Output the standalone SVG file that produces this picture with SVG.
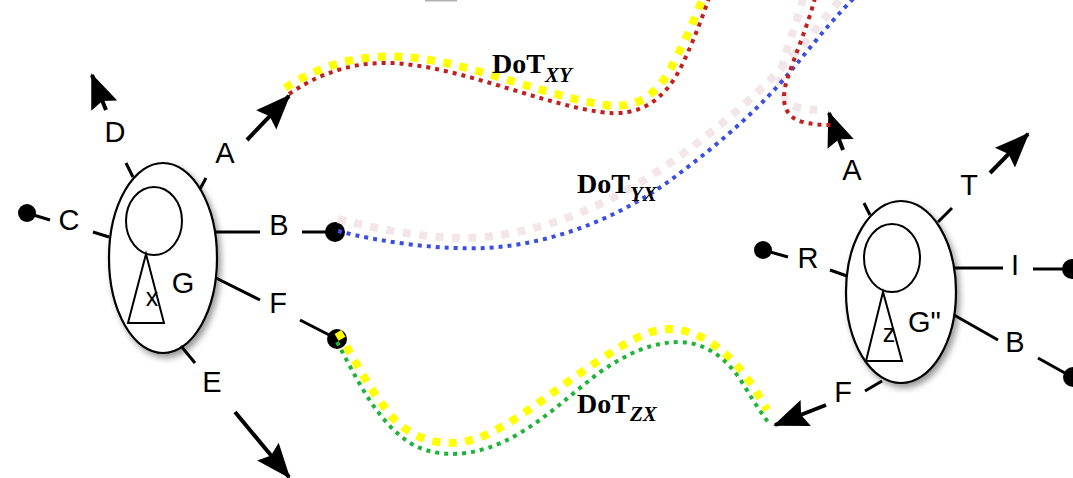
<svg xmlns="http://www.w3.org/2000/svg" width="1073" height="478" viewBox="0 0 1073 478">
<style>
.ell{fill:#fff;stroke:#000;stroke-width:2.2}
.inner{fill:#fff;stroke:#000;stroke-width:2}
.ln{stroke:#000;stroke-width:3;fill:none}
.arr{stroke:#000;stroke-width:4;fill:none;marker-end:url(#ah)}
.ball{fill:#000}
.lbl{font-family:"Liberation Sans",Arial,sans-serif;font-size:29px;text-anchor:middle;fill:#000}
.sm{font-family:"Liberation Sans",Arial,sans-serif;font-size:25px;text-anchor:middle;fill:#000}
.dot{font-family:"Liberation Serif","Times New Roman",serif;font-weight:bold;font-size:28px;fill:#000}
.sub{font-style:italic;font-size:21px}
.wide{fill:none;stroke-width:8;stroke-dasharray:8 8.5}
.narrow{fill:none;stroke-width:4;stroke-dasharray:4 5}
.yel{stroke:#ffff00}
.pink{stroke:#f3e6e8}
.red{stroke:#c0201e}
.blue{stroke:#3a4fe0}
.green{stroke:#1fb33a}
</style>
<defs>
<marker id="ah" markerUnits="userSpaceOnUse" markerWidth="40" markerHeight="32" viewBox="-36 -16 40 32" refX="0" refY="0" orient="auto" overflow="visible">
<path d="M2,0 L-33,-14 L-28,0 L-33,14 Z" fill="#000"/>
</marker>
<filter id="sh" x="-20%" y="-20%" width="150%" height="150%">
<feDropShadow dx="3" dy="4" stdDeviation="3" flood-color="#000" flood-opacity="0.4"/>
</filter>
</defs>
<rect width="1073" height="478" fill="#fff"/>
<line x1="425" y1="0.5" x2="457" y2="0.5" stroke="#b0b0b0" stroke-width="2"/>

<g id="node-G">
<ellipse class="ell" cx="163" cy="258" rx="54" ry="95" filter="url(#sh)"/>
<ellipse class="inner" cx="154" cy="221" rx="28" ry="34"/>
<path class="inner" d="M146,254 L128,323 L164,323 Z" fill="none"/>
<text class="sm" x="152" y="306">x</text>
<text class="lbl" x="183" y="293">G</text>
<line class="ln" x1="126" y1="163" x2="133" y2="177"/>
<line class="arr" x1="106" y1="110" x2="92" y2="75"/>
<text class="lbl" x="115" y="142">D</text>
<line class="ln" x1="200" y1="189" x2="206" y2="178"/>
<line class="arr" x1="247" y1="140" x2="289" y2="96"/>
<text class="lbl" x="225" y="163">A</text>
<line class="ln" x1="93" y1="232" x2="109" y2="237"/>
<text class="lbl" x="69" y="230">C</text>
<line class="ln" x1="27" y1="213" x2="50" y2="220"/>
<circle class="ball" cx="27" cy="213" r="9"/>
<line class="ln" x1="216" y1="232" x2="260" y2="232"/>
<text class="lbl" x="279" y="235">B</text>
<line class="ln" x1="302" y1="232" x2="335" y2="232"/>
<circle class="ball" cx="335" cy="232" r="10"/>
<line class="ln" x1="216" y1="278" x2="260" y2="300"/>
<text class="lbl" x="278" y="313">F</text>
<line class="ln" x1="300" y1="320" x2="337" y2="339"/>
<circle class="ball" cx="337" cy="339" r="10"/>
<line class="ln" x1="181" y1="346" x2="195" y2="363"/>
<text class="lbl" x="212" y="392">E</text>
<line class="arr" x1="235" y1="412" x2="289" y2="477"/>
</g>

<g id="node-G2">
<ellipse class="ell" cx="901" cy="292" rx="55" ry="91" filter="url(#sh)"/>
<ellipse class="inner" cx="892" cy="258" rx="28" ry="34"/>
<path class="inner" d="M883,292 L866,361 L902,361 Z" fill="none"/>
<text class="sm" x="889" y="342">z</text>
<text class="lbl" x="908" y="332" style="text-anchor:start">G"</text>
<line class="ln" x1="864" y1="203" x2="870" y2="215"/>
<line class="arr" x1="843" y1="150" x2="829" y2="113"/>
<text class="lbl" x="852" y="180">A</text>
<line class="ln" x1="938" y1="222" x2="952" y2="208"/>
<text class="lbl" x="969" y="195">T</text>
<line class="arr" x1="990" y1="173" x2="1028" y2="134"/>
<line class="ln" x1="763" y1="250" x2="788" y2="257"/>
<circle class="ball" cx="763" cy="250" r="9"/>
<text class="lbl" x="808" y="268">R</text>
<line class="ln" x1="830" y1="270" x2="847" y2="276"/>
<line class="ln" x1="955" y1="268" x2="1003" y2="268"/>
<text class="lbl" x="1015" y="275">I</text>
<line class="ln" x1="1033" y1="269" x2="1071" y2="269"/>
<circle class="ball" cx="1072" cy="269" r="10"/>
<line class="ln" x1="954" y1="315" x2="998" y2="340"/>
<text class="lbl" x="1015" y="352">B</text>
<line class="ln" x1="1038" y1="358" x2="1072" y2="377"/>
<circle class="ball" cx="1073" cy="377" r="10"/>
<line class="ln" x1="882" y1="381" x2="865" y2="391"/>
<text class="lbl" x="843" y="402">F</text>
<line class="arr" x1="826" y1="405" x2="775" y2="425"/>
</g>

<g id="connectors">
<path class="wide yel" d="M285,88 C325,62 365,54 407,57 C470,62 540,95 605,105 C640,110 660,92 675,60 C688,35 696,15 703,-2"/>
<path class="narrow red" d="M289,94 C330,66 370,60 405,64 C470,71 540,103 600,112 C640,118 665,100 682,65 C694,40 702,18 709,-2"/>
<path class="wide pink" d="M338,219 C390,232 430,238 465,238 C540,236 610,205 670,163 C710,135 745,105 770,80 C795,55 820,25 842,-3"/>
<path class="wide pink" d="M803,-2 C797,25 785,50 781,72 C778,92 785,104 800,108 C810,110 818,110 826,110"/>
<path class="narrow blue" d="M338,231 C380,242 440,250 485,248 C560,244 630,212 680,173 C720,143 760,108 790,72 C810,48 830,22 855,-3"/>
<path class="narrow red" d="M815,-2 C808,25 795,55 787,80 C780,102 785,118 803,122 C815,125 825,125 832,125"/>
<path class="wide yel" d="M338,332 C355,360 370,392 395,420 C420,445 455,450 490,433 C530,413 560,385 603,358 C630,340 650,329 670,329 C700,330 725,350 745,375 C755,390 762,400 767,410"/>
<path class="narrow green" d="M337,342 C355,375 375,420 410,443 C435,458 475,460 520,433 C550,415 570,395 600,372 C625,355 650,342 680,342 C710,343 730,362 745,387 C755,404 763,415 770,425"/>
<text class="dot" x="492" y="73">DoT<tspan class="sub" dy="9">XY</tspan></text>
<text class="dot" x="577" y="193">DoT<tspan class="sub" dy="8">YX</tspan></text>
<text class="dot" x="577" y="413">DoT<tspan class="sub" dy="8">ZX</tspan></text>
</g>
</svg>
